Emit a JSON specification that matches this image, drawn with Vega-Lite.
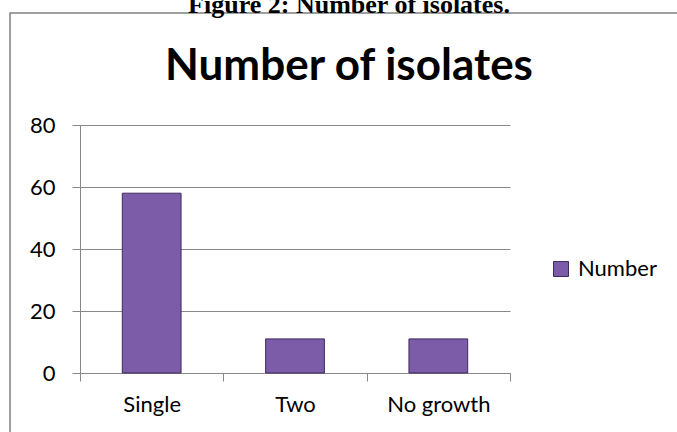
{
  "$schema": "https://vega.github.io/schema/vega-lite/v6.json",
  "autosize": "none",
  "padding": {"left": 10, "top": 13, "right": 0, "bottom": 0},
  "width": 670,
  "height": 422,
  "background": "white",
  "config": {"view": {"stroke": "#808080", "strokeWidth": 1.5}, "font": "Lato"},
  "title": {
    "text": "Figure 2: Number of isolates.",
    "subtitle": "Number of isolates",
    "font": "Liberation Serif",
    "fontSize": 26,
    "fontWeight": "bold",
    "color": "black",
    "subtitleFont": "Lato",
    "subtitleFontSize": 44,
    "subtitleFontWeight": "bold",
    "subtitleColor": "black",
    "subtitlePadding": 27,
    "offset": -76,
    "anchor": "middle",
    "frame": "group",
    "dx": 4
  },
  "data": {
    "values": [
      {"category": "Single", "count": 58, "series": "Number"},
      {"category": "Two", "count": 11, "series": "Number"},
      {"category": "No growth", "count": 11, "series": "Number"}
    ]
  },
  "mark": {"type": "bar", "width": {"band": 0.41}, "stroke": "#3f2b5e", "strokeWidth": 1},
  "encoding": {
    "x": {
      "field": "category",
      "type": "nominal",
      "sort": ["Single", "Two", "No growth"],
      "scale": {"range": [70, 500], "paddingInner": 0, "paddingOuter": 0},
      "axis": {
        "title": null,
        "labelAngle": 0,
        "tickBand": "extent",
        "offset": -62,
        "domainColor": "#888888",
        "tickColor": "#888888",
        "tickSize": 8,
        "labelFontSize": 22,
        "labelColor": "black",
        "labelPadding": 13,
        "grid": false
      }
    },
    "y": {
      "field": "count",
      "type": "quantitative",
      "scale": {"domain": [0, 80], "range": [360, 112]},
      "axis": {
        "title": null,
        "values": [0, 20, 40, 60, 80],
        "offset": -70,
        "grid": true,
        "gridColor": "#888888",
        "domainColor": "#888888",
        "tickColor": "#888888",
        "tickSize": 8,
        "labelFontSize": 22,
        "labelColor": "black",
        "labelPadding": 17
      }
    },
    "color": {
      "field": "series",
      "type": "nominal",
      "scale": {"range": ["#7c5ba8"]},
      "legend": {
        "title": null,
        "orient": "none",
        "legendX": 540,
        "legendY": 245,
        "symbolType": "square",
        "symbolSize": 225,
        "labelFontSize": 22,
        "labelColor": "black",
        "labelOffset": 6,
        "symbolStrokeColor": "#3f2b5e",
        "symbolStrokeWidth": 1
      }
    }
  }
}
